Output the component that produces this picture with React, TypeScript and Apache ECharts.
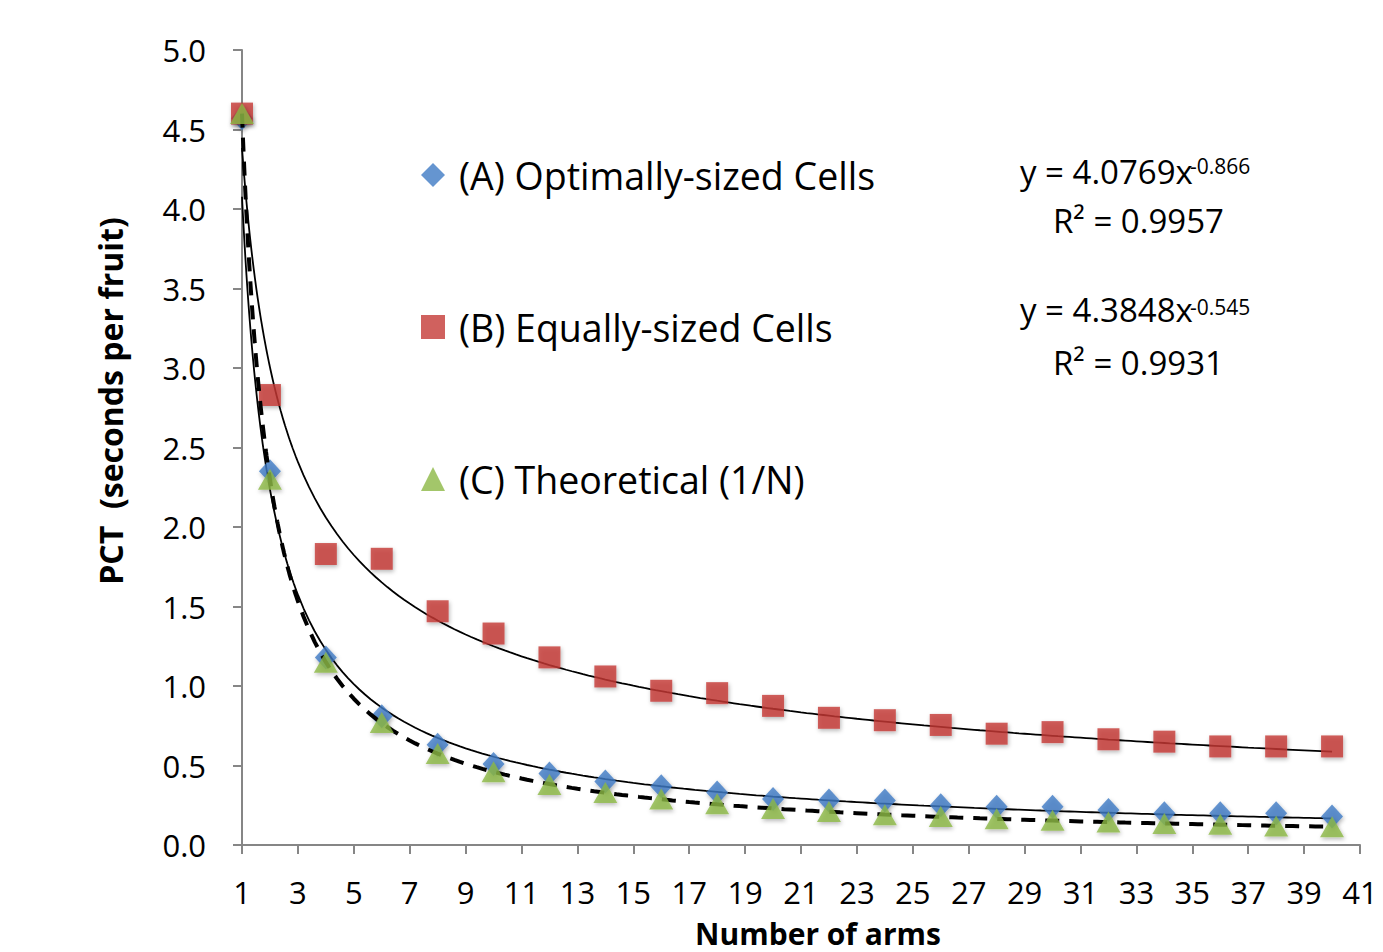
import React, { useEffect, useRef } from "react";
import * as echarts from "echarts";

const arms = [1, 2, 4, 6, 8, 10, 12, 14, 16, 18, 20, 22, 24, 26, 28, 30, 32, 34, 36, 38, 40];
const optimallySized = [4.57, 2.35, 1.18, 0.81, 0.63, 0.51, 0.45, 0.40, 0.37, 0.33, 0.29, 0.28, 0.28, 0.25, 0.24, 0.24, 0.22, 0.20, 0.20, 0.20, 0.18];
const equallySized = [4.60, 2.83, 1.83, 1.80, 1.47, 1.33, 1.18, 1.06, 0.97, 0.955, 0.875, 0.80, 0.785, 0.755, 0.70, 0.71, 0.665, 0.65, 0.62, 0.62, 0.62];
const theoretical = [4.60, 2.30, 1.15, 0.77, 0.575, 0.46, 0.38, 0.33, 0.29, 0.26, 0.23, 0.21, 0.19, 0.18, 0.165, 0.155, 0.145, 0.135, 0.13, 0.12, 0.115];

const seriesNames = ["(A) Optimally-sized Cells", "(B) Equally-sized Cells", "(C) Theoretical (1/N)"];
// power trendline coefficients y = a * x^b (from the chart's equations)
const fitA = { a: 4.0769, b: -0.866 };
const fitB = { a: 4.3848, b: -0.545 };
const fitC = { a: 4.6, b: -1 };
const eqTextA = ["y = 4.0769x", "-0.866", "R² = 0.9957"];
const eqTextB = ["y = 4.3848x", "-0.545", "R² = 0.9931"];
const xTitle = "Number of arms";
const yTitle = "PCT  (seconds per fruit)";

const xTicks = { min: 1, max: 41, interval: 2 };
const yTicks = { min: 0, max: 5, interval: 0.5 };

function trend(fit: { a: number; b: number }) {
  const pts: number[][] = [];
  for (let x = 1; x <= 40.0001; x += x < 3 ? 0.02 : 0.2) {
    pts.push([x, fit.a * Math.pow(x, fit.b)]);
  }
  return pts;
}

const FONT = "Open Sans";

export default function App() {
  const ref = useRef<HTMLDivElement>(null);
  useEffect(() => {
    const chart = echarts.init(ref.current!, null, { renderer: "svg" });
    const markerShadow = { shadowBlur: 4, shadowColor: "rgba(0,0,0,0.35)", shadowOffsetX: 1, shadowOffsetY: 2 };
    chart.setOption({
      animation: false,
      backgroundColor: "#ffffff",
      textStyle: { fontFamily: FONT },
      grid: { left: 242, top: 50, width: 1118, height: 795, containLabel: false, outerBoundsMode: "none" },
      legend: {
        data: seriesNames,
        orient: "vertical",
        left: 416,
        top: 150,
        itemGap: 112,
        itemWidth: 24,
        itemHeight: 24,
        textStyle: { fontSize: 37.5, color: "#000", fontFamily: FONT, lineHeight: 40, padding: [0, 0, 0, 9] },
        selectedMode: false,
      },
      xAxis: {
        type: "value",
        min: xTicks.min,
        max: xTicks.max,
        interval: xTicks.interval,
        axisLine: { lineStyle: { color: "#868686", width: 2 } },
        axisTick: { show: true, length: 9, lineStyle: { color: "#868686", width: 2 } },
        axisLabel: { fontSize: 31, color: "#000", margin: 30, lineHeight: 34, fontFamily: FONT },
        splitLine: { show: false },
      },
      yAxis: {
        type: "value",
        min: yTicks.min,
        max: yTicks.max,
        interval: yTicks.interval,
        axisLine: { show: true, lineStyle: { color: "#868686", width: 2 } },
        axisTick: { show: true, length: 9, lineStyle: { color: "#868686", width: 2 } },
        axisLabel: { fontSize: 31, color: "#000", margin: 36, fontFamily: FONT, formatter: (v: number) => v.toFixed(1) },
        splitLine: { show: false },
      },
      series: [
        {
          name: "trendA",
          type: "line",
          data: trend(fitA),
          showSymbol: false,
          lineStyle: { color: "#000", width: 1.8 },
          z: 1,
          silent: true,
        },
        {
          name: "trendB",
          type: "line",
          data: trend(fitB),
          showSymbol: false,
          lineStyle: { color: "#000", width: 1.8 },
          z: 1,
          silent: true,
        },
        {
          name: seriesNames[0],
          type: "scatter",
          symbol: "diamond",
          symbolSize: [22, 24],
          data: arms.map((x, i) => [x, optimallySized[i]]),
          itemStyle: { color: "#3f7ac4", ...markerShadow },
          z: 3,
        },
        {
          name: seriesNames[1],
          type: "scatter",
          symbol: "rect",
          symbolSize: 22,
          data: arms.map((x, i) => [x, equallySized[i]]),
          itemStyle: { color: "#c43a36", ...markerShadow },
          z: 3,
        },
        {
          name: "trendC",
          type: "line",
          data: trend(fitC),
          showSymbol: false,
          lineStyle: { color: "#000", width: 4, type: [14, 10] },
          z: 4,
          silent: true,
        },
        {
          name: seriesNames[2],
          type: "scatter",
          symbol: "triangle",
          symbolSize: [24, 21],
          data: arms.map((x, i) => [x, theoretical[i]]),
          itemStyle: { color: "#8cb845", ...markerShadow },
          z: 5,
        },
      ],
      graphic: [
        {
          type: "text",
          x: 110,
          y: 401,
          rotation: Math.PI / 2,
          style: { text: yTitle, fontSize: 32, fontWeight: "bold", fill: "#000", fontFamily: FONT, align: "center", verticalAlign: "middle" },
        },
        {
          type: "text",
          x: 818,
          y: 933,
          style: { text: xTitle, fontSize: 30, lineHeight: 34, fontWeight: "bold", fill: "#000", fontFamily: FONT, align: "center", verticalAlign: "middle" },
        },
        { type: "text", left: 1020, top: 155, style: { text: eqTextA[0], fontSize: 33, fill: "#000", fontFamily: FONT } },
        { type: "text", left: 1190, top: 155, style: { text: eqTextA[1], fontSize: 21, fill: "#000", fontFamily: FONT } },
        { type: "text", left: 1053, top: 204, style: { text: eqTextA[2], fontSize: 33, fill: "#000", fontFamily: FONT } },
        { type: "text", left: 1020, top: 293, style: { text: eqTextB[0], fontSize: 33, fill: "#000", fontFamily: FONT } },
        { type: "text", left: 1190, top: 296, style: { text: eqTextB[1], fontSize: 21, fill: "#000", fontFamily: FONT } },
        { type: "text", left: 1053, top: 346, style: { text: eqTextB[2], fontSize: 33, fill: "#000", fontFamily: FONT } },
      ],
    });
    return () => chart.dispose();
  }, []);
  return (
    <div
      ref={ref}
      style={{ position: "fixed", left: 0, top: 0, width: 1383, height: 952, background: "#fff" }}
    />
  );
}
